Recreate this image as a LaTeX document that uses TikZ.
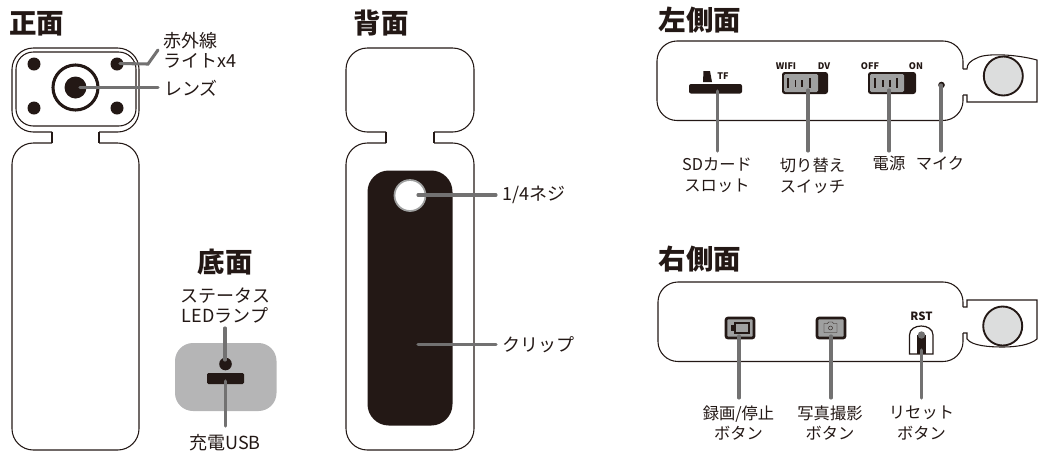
\documentclass[tikz,border=0pt]{standalone}
\usepackage{fontspec}
\setmainfont{Noto Sans CJK JP}
\definecolor{inkblack}{HTML}{231815}
\definecolor{leadgray}{HTML}{727171}
\definecolor{switchgray}{HTML}{9FA0A0}
\definecolor{basegray}{HTML}{B5B5B6}
\definecolor{lensgray}{HTML}{DCDDDD}
\tikzset{
   devline/.style={draw=inkblack, line width=0.8pt},
   leader/.style={draw=leadgray, line width=2.3pt, line cap=round},
   viewtitle/.style={inner sep=0pt, text=inkblack, font=\fontsize{20.6}{24}\selectfont\bfseries},
   biglabel/.style={inner sep=0pt, text=inkblack, align=left, font=\fontsize{13.5}{15.3}\selectfont},
   sidelabel/.style={inner sep=0pt, text=inkblack, align=center, font=\fontsize{12.2}{15.6}\selectfont},
   marklabel/.style={inner sep=0pt, text=inkblack, font=\fontsize{6.8}{8}\selectfont\bfseries},
   buttonbox/.style={draw=inkblack, fill=switchgray, line width=2pt, rounded corners=1.5pt}
}

\begin{document}
\begin{tikzpicture}[x=0.75pt, y=-0.75pt]
   \useasboundingbox (0,0) rectangle (1038,451);

   \coordinate (lightin) at (120,63.5);
   \coordinate (lightbend) at (148,64);
   \coordinate (lightout) at (158,50);
   \coordinate (lensin) at (80,87.5);
   \coordinate (lensout) at (158,87.5);
   \coordinate (screwin) at (418,195);
   \coordinate (screwout) at (496,195);
   \coordinate (clipin) at (418,344.5);
   \coordinate (clipout) at (496,344.5);
   \coordinate (ledin) at (225,360);
   \coordinate (ledout) at (225,328);
   \coordinate (usbin) at (225.5,381);
   \coordinate (usbout) at (225.5,426);
   \coordinate (sdin) at (717.5,91);
   \coordinate (sdout) at (717.5,151);
   \coordinate (modein) at (808,90);
   \coordinate (modeout) at (808,151);
   \coordinate (powerin) at (889,90);
   \coordinate (powerout) at (889,151);
   \coordinate (micin) at (941,85);
   \coordinate (micout) at (941,151);
   \coordinate (recin) at (739,336);
   \coordinate (recout) at (739,398);
   \coordinate (photoin) at (831,336);
   \coordinate (photoout) at (831,398);
   \coordinate (rstin) at (921.5,350);
   \coordinate (rstout) at (921.5,398);

   \node [viewtitle] (fronttitle) at (37,24) {正面};
   \node [viewtitle] (backtitle) at (381,23) {背面};
   \node [viewtitle] (bottomtitle) at (225,262) {底面};
   \node [viewtitle] (lefttitle) at (700,20) {左側面};
   \node [viewtitle] (righttitle) at (700,259) {右側面};

   \draw [devline, rounded corners=16pt] (52,132) -- (12,132) -- (12,48) -- (139,48) -- (139,132) -- (99,132);
   \draw [devline, rounded corners=16pt] (99,143) -- (139,143) -- (139,450) -- (12,450) -- (12,143) -- (52,143);
   \draw [devline] (52,132) -- (52,143);
   \draw [devline] (99,132) -- (99,143);
   \draw [devline, rounded corners=13pt] (16,52) rectangle (136,126);
   \foreach \px/\py in {34/64, 117/64, 34/108, 117/108}
      \fill [inkblack] (\px,\py) circle (6.5);
   \draw [draw=inkblack, line width=2.3pt] (75.5,87.5) circle (22.5);
   \fill [inkblack] (75.5,87.5) circle (11);

   \draw [devline, rounded corners=16pt] (386,132) -- (346,132) -- (346,48) -- (474,48) -- (474,132) -- (434,132);
   \draw [devline, rounded corners=16pt] (434,143) -- (474,143) -- (474,450) -- (346,450) -- (346,143) -- (386,143);
   \draw [devline] (386,132) -- (386,143);
   \draw [devline] (434,132) -- (434,143);
   \fill [inkblack, rounded corners=16pt] (367.5,170.5) rectangle (452.5,425.5);
   \draw [draw=switchgray, fill=white, line width=1.3pt] (410,195.5) circle (15.5);

   \fill [basegray, rounded corners=13.5pt] (175,343) rectangle (276.5,411);
   \fill [inkblack] (225.5,364) circle (6.3);
   \fill [inkblack, rounded corners=1pt] (207,373) rectangle (244,384);

   \draw [devline, rounded corners=15pt] (963,69) -- (963,41) -- (657,41) -- (657,120.5) -- (963,120.5) -- (963,95);
   \draw [devline] (963,69) -- (967,69) .. controls (967,64) and (970,61) .. (977,58) .. controls (985,53) and (1015,54) .. (1037,60) -- (1037,102) -- (967,102) -- (967,95) -- (963,95);
   \draw [draw=inkblack, fill=lensgray, line width=1.4pt] (1003.3,76) circle (19.5);
   \fill [inkblack] (703.5,71) -- (710,71) -- (712,82) -- (703,82) -- cycle;
   \fill [inkblack, rounded corners=1.5pt] (689,84) rectangle (742,93.5);
   \node [marklabel] (tfmark) at (723,76.5) {TF};

   \fill [inkblack, rounded corners=2pt] (782,72) rectangle (828,94);
   \fill [switchgray, rounded corners=1pt] (784,74) rectangle (818,92);
   \foreach \tx/\ta/\tb in {788/78/88, 795.5/80/87, 802/80/87, 810/78/88}
      \draw [draw=inkblack, line width=0.9pt] (\tx,\ta) -- (\tx,\tb);
   \node [marklabel] (wifimark) at (786,66) {WIFI};
   \node [marklabel] (dvmark) at (824,66) {DV};

   \fill [inkblack, rounded corners=2pt] (868,72) rectangle (916,94);
   \fill [switchgray, rounded corners=1pt] (870,74) rectangle (904,92);
   \foreach \tx/\ta/\tb in {875/78/88, 883/80/87, 890/80/87, 897/78/88}
      \draw [draw=inkblack, line width=0.9pt] (\tx,\ta) -- (\tx,\tb);
   \node [marklabel] (offmark) at (870,66) {OFF};
   \node [marklabel] (onmark) at (916,66) {ON};
   \fill [inkblack] (941.5,85) circle (3.3);

   \draw [devline, rounded corners=15pt] (963,307) -- (963,282) -- (658,282) -- (658,361.5) -- (963,361.5) -- (963,333);
   \draw [devline] (963,307) -- (967,307) -- (967,300) -- (1037,300) -- (1037,339) .. controls (1030,345) and (1016,347) .. (1003,347) .. controls (990,347) and (972,346) .. (967,339) -- (967,333) -- (963,333);
   \draw [draw=inkblack, fill=lensgray, line width=1.4pt] (1002.7,326) circle (19.5);

   \draw [buttonbox] (726,318) rectangle (754,338);
   \draw [draw=inkblack, fill=switchgray, line width=1.2pt] (735,323) rectangle (749,333);
   \fill [inkblack] (730.5,325) -- (735,325) -- (735,331) -- (730.5,331) -- cycle;
   \draw [buttonbox] (817,318) rectangle (845,338);
   \draw [draw=inkblack, line width=0.3pt] (824,323.5) -- (827.5,323.5) -- (828.5,322) -- (832.5,322) -- (833.5,323.5) -- (837,323.5) -- (837,332.5) -- (824,332.5) -- cycle;
   \draw [draw=inkblack, line width=0.3pt] (830.5,328) circle (2);

   \node [marklabel, font=\fontsize{8.5}{10}\selectfont\bfseries] (rstmark) at (921.5,316) {RST};
   \draw [draw=inkblack, line width=0.9pt] (909.5,354) -- (909.5,335) .. controls (909.5,323) and (933,323) .. (933,335) -- (933,354) -- cycle;
   \fill [inkblack] (917,335) rectangle (925.5,354);
   \fill [leadgray] (921.5,335) circle (3.7);

   \draw [leader] (lightin) -- (lightbend) -- (lightout);
   \draw [leader] (lensin) -- (lensout);
   \draw [leader] (screwin) -- (screwout);
   \draw [leader] (clipin) -- (clipout);
   \draw [leader] (ledin) -- (ledout);
   \draw [leader] (usbin) -- (usbout);
   \draw [leader] (sdin) -- (sdout);
   \draw [leader] (modein) -- (modeout);
   \draw [leader] (powerin) -- (powerout);
   \draw [leader] (micin) -- (micout);
   \draw [leader] (recin) -- (recout);
   \draw [leader] (photoin) -- (photoout);
   \draw [leader] (rstin) -- (rstout);

   \node [biglabel, anchor=west] (lightlabel) at (163,50) {赤外線\\ライトx4};
   \node [biglabel, anchor=west] (lenslabel) at (164,88) {レンズ};
   \node [biglabel, anchor=west] (screwlabel) at (502,195) {1/4ネジ};
   \node [biglabel, anchor=west] (cliplabel) at (502,344.5) {クリップ};
   \node [biglabel, align=center] (ledlabel) at (225,305.5) {ステータス\\LEDランプ};
   \node [biglabel] (usblabel) at (225,443) {充電USB};
   \node [sidelabel] (sdlabel) at (717,175) {SDカード\\スロット};
   \node [sidelabel] (modelabel) at (812.5,175.5) {切り替え\\スイッチ};
   \node [sidelabel] (powerlabel) at (889,163) {電源};
   \node [sidelabel] (miclabel) at (940,163) {マイク};
   \node [sidelabel] (reclabel) at (738.5,423) {録画/停止\\ボタン};
   \node [sidelabel] (photolabel) at (830,423) {写真撮影\\ボタン};
   \node [sidelabel] (rstlabel) at (921.5,423) {リセット\\ボタン};
\end{tikzpicture}
\end{document}
